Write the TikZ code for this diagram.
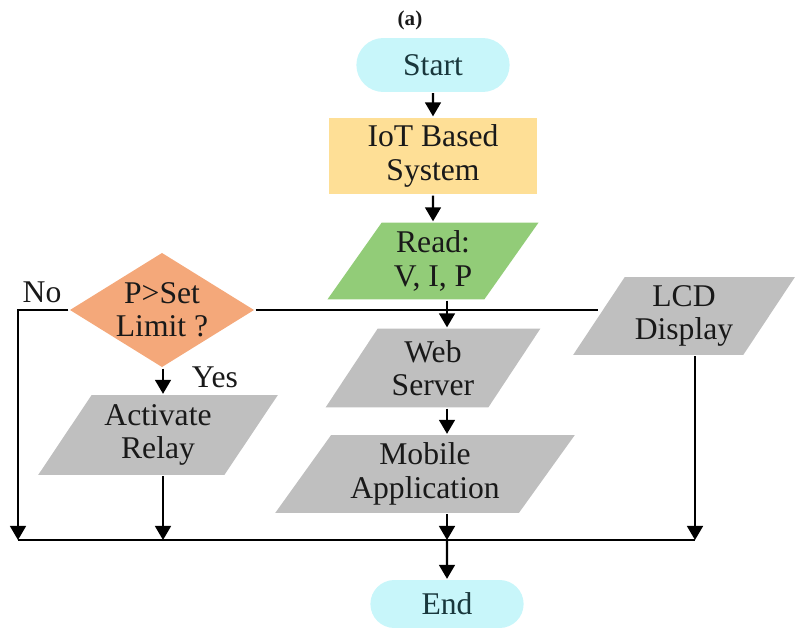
\documentclass[tikz,border=0pt]{standalone}
\usepackage{fontspec}
\setmainfont{Liberation Serif}
\usetikzlibrary{arrows.meta, shapes.geometric, shapes.misc}
\definecolor{termcyan}{RGB}{200,246,250}
\definecolor{termtext}{RGB}{25,55,60}
\definecolor{iotgold}{RGB}{254,223,150}
\definecolor{readgreen}{RGB}{146,204,120}
\definecolor{decorange}{RGB}{244,168,122}
\definecolor{boxgray}{RGB}{191,191,191}

\begin{document}
\begin{tikzpicture}[x=0.02cm, y=-0.02cm, >={Triangle[length=8pt,width=9pt]}, line width=1.3pt,
    every node/.style={font=\fontsize{18}{19}\selectfont, align=center, text=black!90},
    term/.style={rounded rectangle, fill=termcyan, text=termtext, minimum width=3.3cm, minimum height=1.08cm},
    process/.style={rectangle, fill=iotgold, minimum width=4.16cm, minimum height=1.54cm},
    io/.style={trapezium, trapezium left angle=56, trapezium right angle=124, trapezium stretches=true, inner sep=2pt, fill=boxgray},
    decision/.style={diamond, fill=decorange, aspect=1.6, inner sep=0pt, minimum width=3.7cm, minimum height=2.3cm}]
    \useasboundingbox (0,0) rectangle (804,628);
    \coordinate (bl) at (18,540);
    \coordinate (ba) at (163,540);
    \coordinate (bm) at (447,540);
    \coordinate (br) at (695,540);
    \node (cap) at (410,20) [font=\fontsize{12}{13}\selectfont\bfseries] {(a)};
    \node (start) at (433,65) [term] {Start};
    \node (iot) at (433,156) [process] {IoT Based\\System};
    \node (read) at (433,261) [io, fill=readgreen, minimum width=4.26cm, minimum height=1.54cm] {Read:\\V, I, P};
    \node (dec) at (162,310) [decision] {P>Set\\Limit ?};
    \node (web) at (433,368) [io, minimum width=4.34cm, minimum height=1.58cm] {Web\\Server};
    \node (lcd) at (684,316) [io, minimum width=4.44cm, minimum height=1.56cm] {LCD\\Display};
    \node (act) at (158,435) [io, minimum width=4.8cm, minimum height=1.6cm] {Activate\\Relay};
    \node (mob) at (425,474) [io, minimum width=6cm, minimum height=1.56cm] {Mobile\\Application};
    \node (end) at (447,604) [term, minimum height=0.96cm] {End};
    \node (no) at (42,292) {No};
    \node (yes) at (215,377) {Yes};
    \draw [->] (start) -- (iot);
    \draw [->] (iot) -- (read);
    \draw [->] (read.south -| bm) -- (web.north -| bm);
    \draw [->] (web.south -| bm) -- (mob.north -| bm);
    \draw (dec.east) -- (dec.east -| lcd.west);
    \draw [->] (dec.west) -| (bl);
    \draw [->] (dec.south -| ba) -- (act.north -| ba);
    \draw [->] (act.south -| ba) -- (ba);
    \draw [->] (mob.south -| bm) -- (bm);
    \draw [->] (lcd.south -| br) -- (br);
    \draw (bl) -- (br);
    \draw [->] (bm) -- (end);
\end{tikzpicture}
\end{document}
